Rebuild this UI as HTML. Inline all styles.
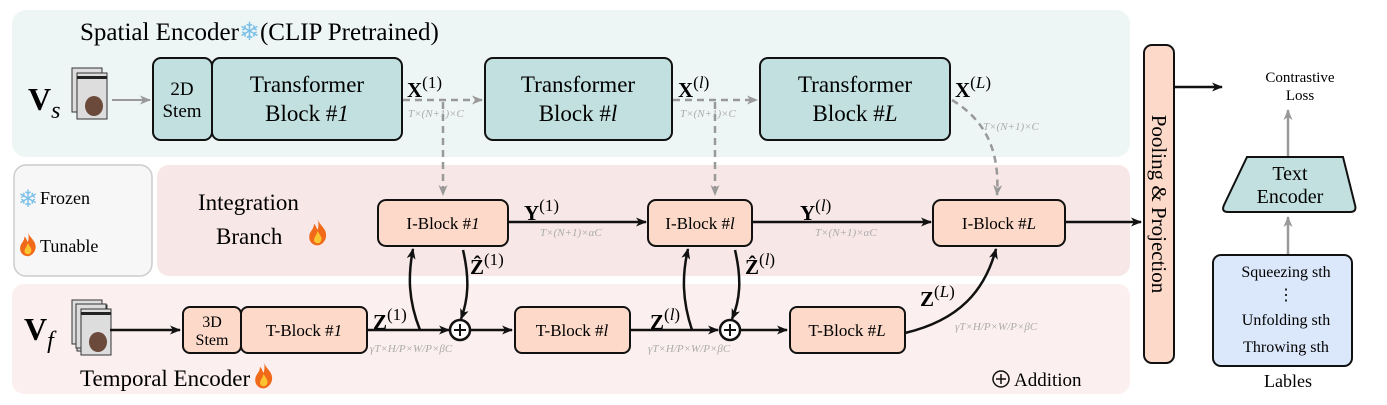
<!DOCTYPE html>
<html><head><meta charset="utf-8"><style>
body{margin:0;background:#fff}
svg{display:block;font-family:"Liberation Serif",serif}
.b{stroke:#111;stroke-width:2}
.dim{fill:#aaa;font-style:italic;font-size:11px}
</style></head><body>
<svg width="1387" height="405" viewBox="0 0 1387 405" xmlns="http://www.w3.org/2000/svg">
<defs>
<marker id="ak" markerWidth="11" markerHeight="9" refX="10" refY="4.5" orient="auto" markerUnits="userSpaceOnUse"><path d="M0,0 L11,4.5 L0,9 L3,4.5z" fill="#111"/></marker>
<marker id="ag" markerWidth="11" markerHeight="9" refX="10" refY="4.5" orient="auto" markerUnits="userSpaceOnUse"><path d="M0,0 L11,4.5 L0,9 L3,4.5z" fill="#999"/></marker>
<g id="fire"><path d="M8,0 C10,6 16,8 15,15 C14,20 10,22 8,22 C4,22 1,19 1,15 C1,10 5,9 5,4 C7,6 7,8 8,9 C9,6 9,3 8,0z" fill="#f06a1a"/><path d="M8,10 C10,14 12,15 11,18 C10,21 6,21 5,18 C5,15 7,14 8,10z" fill="#fbc531"/></g>
<g id="img"><rect x="0" y="0" width="30" height="44" fill="#ddd" stroke="#333"/><rect x="5" y="5" width="30" height="46" fill="#ddd" stroke="#333"/><rect x="5" y="8" width="30" height="3" fill="#222"/><ellipse cx="22" cy="38" rx="9" ry="10" fill="#6b4a3c"/></g>
</defs>
<rect x="12" y="10" width="1118" height="147" rx="14" fill="#eef6f5"/>
<rect x="14" y="165" width="138" height="111" rx="12" fill="#f7f7f7" stroke="#ccc" stroke-width="1.5"/>
<rect x="157" y="165" width="973" height="111" rx="12" fill="#f8e7e7"/>
<rect x="12" y="284" width="1118" height="110" rx="12" fill="#fcefef"/>

<text x="80" y="40" font-size="25">Spatial Encoder<tspan fill="#7cc0e8">❄</tspan>(CLIP Pretrained)</text>
<text x="28" y="110" font-size="32" font-weight="bold">V<tspan font-size="24" font-style="italic" font-weight="normal" dy="8">s</tspan></text>
<use href="#img" x="72" y="68"/>
<line x1="112" y1="100" x2="150" y2="100" stroke="#999" stroke-width="2" marker-end="url(#ag)"/>

<g fill="#c2e0df" class="b">
<rect x="153" y="58" width="59" height="82" rx="8"/>
<rect x="212" y="58" width="190" height="82" rx="8"/>
<rect x="485" y="58" width="187" height="82" rx="8"/>
<rect x="760" y="58" width="190" height="82" rx="8"/>
</g>
<g font-size="19" text-anchor="middle">
<text x="182" y="95">2D</text><text x="182" y="117">Stem</text>
</g>
<g font-size="23" text-anchor="middle">
<text x="307" y="92">Transformer</text><text x="307" y="121">Block #<tspan font-style="italic">1</tspan></text>
<text x="578" y="92">Transformer</text><text x="578" y="121">Block #<tspan font-style="italic">l</tspan></text>
<text x="855" y="92">Transformer</text><text x="855" y="121">Block #<tspan font-style="italic">L</tspan></text>
</g>
<g font-size="21" font-weight="bold">
<text x="407" y="97">X<tspan font-weight="normal" font-size="17" dy="-9">(1)</tspan></text>
<text x="678" y="97">X<tspan font-weight="normal" font-size="17" dy="-9">(<tspan font-style="italic">l</tspan>)</tspan></text>
<text x="955" y="97">X<tspan font-weight="normal" font-size="17" dy="-9">(<tspan font-style="italic">L</tspan>)</tspan></text>
</g>
<text class="dim" x="408" y="117">T×(N+1)×C</text>
<text class="dim" x="680" y="117">T×(N+1)×C</text>
<text class="dim" x="983" y="130">T×(N+1)×C</text>
<g stroke="#999" stroke-width="2.5" stroke-dasharray="7,5" fill="none">
<line x1="403" y1="100" x2="482" y2="100" marker-end="url(#ag)"/>
<line x1="673" y1="100" x2="757" y2="100" marker-end="url(#ag)"/>
<line x1="443" y1="102" x2="443" y2="195" marker-end="url(#ag)"/>
<line x1="715" y1="102" x2="715" y2="195" marker-end="url(#ag)"/>
<path d="M952,100 C985,120 1000,150 997,195" marker-end="url(#ag)"/>
</g>

<text x="18" y="207" font-size="24" fill="#7cc0e8">❄</text><text x="40" y="204" font-size="18">Frozen</text>
<use href="#fire" transform="translate(19,232) scale(1.1)"/><text x="40" y="252" font-size="18">Tunable</text>

<text x="198" y="210" font-size="23">Integration</text>
<text x="216" y="244" font-size="23">Branch</text><use href="#fire" transform="translate(308,219) scale(1.2)"/>
<g fill="#fcd9c8" class="b">
<rect x="378" y="200" width="130" height="46" rx="8"/>
<rect x="648" y="200" width="104" height="46" rx="8"/>
<rect x="933" y="200" width="132" height="46" rx="8"/>
</g>
<g font-size="17" text-anchor="middle">
<text x="443" y="229">I-Block #<tspan font-style="italic">1</tspan></text>
<text x="700" y="229">I-Block #<tspan font-style="italic">l</tspan></text>
<text x="999" y="229">I-Block #<tspan font-style="italic">L</tspan></text>
</g>
<g stroke="#111" stroke-width="2.5" fill="none">
<line x1="508" y1="222" x2="646" y2="222" marker-end="url(#ak)"/>
<line x1="752" y1="222" x2="931" y2="222" marker-end="url(#ak)"/>
<line x1="1065" y1="222" x2="1141" y2="222" marker-end="url(#ak)"/>
</g>
<g font-size="21" font-weight="bold">
<text x="524" y="220">Y<tspan font-weight="normal" font-size="17" dy="-9">(1)</tspan></text>
<text x="800" y="220">Y<tspan font-weight="normal" font-size="17" dy="-9">(<tspan font-style="italic">l</tspan>)</tspan></text>
<text x="470" y="274">Ẑ<tspan font-weight="normal" font-size="17" dy="-9">(1)</tspan></text>
<text x="745" y="274">Ẑ<tspan font-weight="normal" font-size="17" dy="-9">(<tspan font-style="italic">l</tspan>)</tspan></text>
</g>
<text class="dim" x="540" y="236">T×(N+1)×αC</text>
<text class="dim" x="815" y="236">T×(N+1)×αC</text>

<text x="24" y="340" font-size="32" font-weight="bold">V<tspan font-size="24" font-style="italic" font-weight="normal" dy="8">f</tspan></text>
<use href="#img" x="72" y="300"/><use href="#img" x="76" y="304"/>
<line x1="110" y1="330" x2="180" y2="330" stroke="#111" stroke-width="2.5" marker-end="url(#ak)"/>
<g fill="#fcd9c8" class="b">
<rect x="183" y="307" width="58" height="46" rx="7"/>
<rect x="241" y="307" width="126" height="46" rx="7"/>
<rect x="515" y="307" width="115" height="46" rx="7"/>
<rect x="790" y="307" width="115" height="46" rx="7"/>
</g>
<g font-size="16" text-anchor="middle"><text x="212" y="327">3D</text><text x="212" y="345">Stem</text></g>
<g font-size="17" text-anchor="middle">
<text x="304" y="336">T-Block #<tspan font-style="italic">1</tspan></text>
<text x="572" y="336">T-Block #<tspan font-style="italic">l</tspan></text>
<text x="847" y="336">T-Block #<tspan font-style="italic">L</tspan></text>
</g>
<g font-size="21" font-weight="bold">
<text x="373" y="329">Z<tspan font-weight="normal" font-size="17" dy="-9">(1)</tspan></text>
<text x="650" y="329">Z<tspan font-weight="normal" font-size="17" dy="-9">(<tspan font-style="italic">l</tspan>)</tspan></text>
<text x="920" y="306">Z<tspan font-weight="normal" font-size="17" dy="-9">(<tspan font-style="italic">L</tspan>)</tspan></text>
</g>
<text class="dim" x="370" y="352">γT×H/P×W/P×βC</text>
<text class="dim" x="648" y="352">γT×H/P×W/P×βC</text>
<text class="dim" x="955" y="330">γT×H/P×W/P×βC</text>
<g stroke="#111" stroke-width="2.5" fill="none">
<line x1="367" y1="330" x2="449" y2="330" marker-end="url(#ak)"/>
<circle cx="460" cy="330" r="10" fill="#fff"/>
<line x1="470" y1="330" x2="512" y2="330" marker-end="url(#ak)"/>
<line x1="630" y1="330" x2="718" y2="330" marker-end="url(#ak)"/>
<circle cx="730" cy="330" r="10" fill="#fff"/>
<line x1="740" y1="330" x2="787" y2="330" marker-end="url(#ak)"/>
<path d="M420,330 C408,300 408,275 413,249" marker-end="url(#ak)"/>
<path d="M463,250 C470,280 468,300 461,319" marker-end="url(#ak)"/>
<path d="M692,330 C682,300 682,275 688,249" marker-end="url(#ak)"/>
<path d="M735,250 C742,280 740,300 732,319" marker-end="url(#ak)"/>
<path d="M905,333 C960,320 985,290 996,249" marker-end="url(#ak)"/>
<path d="M454,330 H466 M460,324 V336 M724,330 H736 M730,324 V336" stroke-width="2"/>
</g>
<text x="80" y="386" font-size="23">Temporal Encoder</text><use href="#fire" transform="translate(254,362) scale(1.2)"/>
<circle cx="1001" cy="379" r="8" fill="none" stroke="#111" stroke-width="1.5"/>
<path d="M996,379 H1006 M1001,374 V384" stroke="#111" stroke-width="1.5"/>
<text x="1014" y="386" font-size="19">Addition</text>

<rect x="1144" y="45" width="30" height="318" rx="8" fill="#fcd9c8" class="b"/>
<text transform="translate(1152,204) rotate(90)" font-size="21" text-anchor="middle">Pooling &amp; Projection</text>
<line x1="1174" y1="87" x2="1222" y2="87" stroke="#111" stroke-width="2.5" marker-end="url(#ak)"/>
<text x="1300" y="82" font-size="15" text-anchor="middle">Contrastive</text>
<text x="1300" y="100" font-size="15" text-anchor="middle">Loss</text>
<line x1="1288" y1="157" x2="1288" y2="110" stroke="#999" stroke-width="2.5" marker-end="url(#ag)"/>
<path d="M1247,157 L1343,157 L1355,205 Q1357,212 1350,212 L1228,212 Q1221,212 1224,205 Z" fill="#c2e0df" class="b"/>
<text x="1290" y="180" font-size="20" text-anchor="middle">Text</text>
<text x="1290" y="203" font-size="20" text-anchor="middle">Encoder</text>
<line x1="1288" y1="255" x2="1288" y2="217" stroke="#999" stroke-width="2.5" marker-end="url(#ag)"/>
<rect x="1213" y="255" width="139" height="111" rx="8" fill="#dbe8fb" class="b"/>
<g font-size="16" text-anchor="middle">
<text x="1286" y="277">Squeezing sth</text>
<text x="1286" y="300">⋮</text>
<text x="1286" y="325">Unfolding sth</text>
<text x="1286" y="352">Throwing sth</text>
</g>
<text x="1288" y="387" font-size="18" text-anchor="middle">Lables</text>
</svg>
</body></html>
